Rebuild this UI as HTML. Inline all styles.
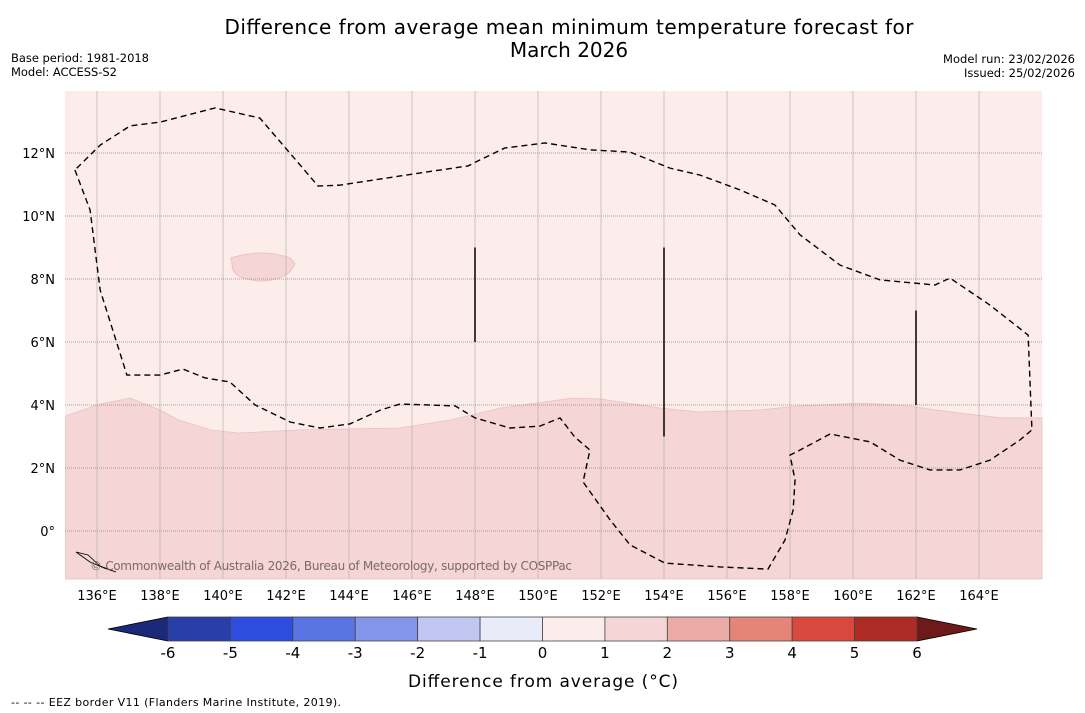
<!DOCTYPE html>
<html><head><meta charset="utf-8"><style>
body{margin:0;background:#fff;width:1085px;height:713px;overflow:hidden;font-family:"DejaVu Sans","Liberation Sans",sans-serif}
svg{position:absolute;left:0;top:0}
</style></head><body>
<svg id="c" width="1085" height="713" font-family="DejaVu Sans, Liberation Sans, sans-serif"></svg>
<script>
const lonTicks=[136,138,140,142,144,146,148,150,152,154,156,158,160,162,164];
const latTicks=[0,2,4,6,8,10,12];
const cbLevels=[-6,-5,-4,-3,-2,-1,0,1,2,3,4,5,6];
const cbColors=['#283ea8','#2e4ddf','#5a74e2','#8295e8','#c0c8f2','#e9ebf9','#fcecea','#f5d5d5','#ebaca7','#e58479','#d9483c','#ad2b25'];
const cbLow='#1b2a78', cbHigh='#6e1a18';
const anomBoundary=[[135,3.65],[136.1,4.03],[137.05,4.22],[138,3.84],[138.6,3.52],[139.6,3.21],[140.5,3.11],[142.4,3.21],[145.6,3.27],[147.2,3.52],[148.8,3.9],[151.1,4.22],[152,4.19],[153.9,3.9],[155.1,3.78],[157,3.84],[158.3,3.97],[160.2,4.06],[161.5,4.0],[163.1,3.78],[164.7,3.59],[166,3.59]];
const eez=[[135.3,11.46],[135.78,10.19],[136.1,7.65],[136.95,4.95],[138.0,4.95],[138.73,5.14],[139.43,4.86],[140.22,4.73],[141.02,4.0],[142.13,3.46],[143.08,3.27],[144.03,3.4],[145.0,3.84],[145.62,4.03],[146.57,4.0],[147.37,3.97],[148.0,3.59],[149.11,3.27],[150.06,3.33],[150.7,3.59],[151.17,2.98],[151.65,2.57],[151.43,1.56],[152.29,0.35],[152.92,-0.44],[154.03,-1.02],[155.78,-1.14],[157.3,-1.21],[157.84,-0.29],[158.1,0.67],[158.16,1.62],[158.0,2.41],[158.32,2.57],[159.27,3.08],[160.54,2.83],[161.49,2.25],[162.44,1.94],[163.4,1.94],[164.35,2.25],[165.3,2.89],[165.68,3.21],[165.56,6.22],[164.35,7.17],[163.08,8.03],[162.6,7.81],[160.86,7.97],[159.59,8.44],[158.32,9.4],[157.52,10.35],[156.41,10.83],[155.14,11.3],[154.19,11.52],[152.92,12.03],[151.65,12.1],[150.22,12.32],[148.95,12.16],[148.16,11.78],[147.78,11.59],[146.89,11.46],[145.62,11.27],[143.71,10.98],[143.02,10.95],[141.17,13.11],[139.75,13.43],[138.0,12.98],[137.05,12.86],[136.1,12.25],[135.3,11.46]];
const vLines=[[148,9,6],[154,9,3],[162,7,4]];
const L=65,R=1042,T=91,B=579;
const X=lon=>97+(lon-136)*31.5, Y=lat=>531-lat*31.5;
const cbX=v=>168+(v+6)*(917-168)/12;
const s=document.getElementById('c');const NS='http://www.w3.org/2000/svg';
function E(t,a,p){const e=document.createElementNS(NS,t);for(const k in a)e.setAttribute(k,a[k]);(p||s).appendChild(e);return e;}
function T_(x,y,txt,sz,anc){const e=E('text',{x:x,y:y,'font-size':sz,'text-anchor':anc||'start',fill:'#000'});e.textContent=txt;return e;}
let t=T_(569,34,'Difference from average mean minimum temperature forecast for',20,'middle');

t.setAttribute('textLength','689');
t=T_(569,57,'March 2026',20,'middle');

T_(11,62,'Base period: 1981-2018',11.5).setAttribute('textLength','138');
T_(11,76,'Model: ACCESS-S2',11.5).setAttribute('textLength','106');
T_(1075,63,'Model run: 23/02/2026',11.5,'end').setAttribute('textLength','132');
T_(1075,77,'Issued: 25/02/2026',11.5,'end').setAttribute('textLength','111');
let bg=E('rect',{x:L,y:T,width:R-L,height:B-T,fill:cbColors[6]});

let d='M'+X(anomBoundary[0][0])+','+B;anomBoundary.forEach(p=>d+=' L'+X(p[0])+','+Y(p[1]));d+=' L'+R+','+B+' Z';
let a=E('path',{d:d,fill:cbColors[7],stroke:'#e9c4c1','stroke-width':0.8});

E('path',{d:'M231,258 Q262,248 290,258 L295,264 Q288,280 262,281 Q238,280 233,270 Z',fill:cbColors[7],stroke:'#e9c4c1'});
lonTicks.forEach(v=>{let l=E('line',{x1:X(v),x2:X(v),y1:T,y2:B,stroke:'#aaa','stroke-width':0.6});
let tx=T_(X(v),600,v+'°E',13,'middle');});
latTicks.forEach(v=>{E('line',{x1:L,x2:R,y1:Y(v),y2:Y(v),stroke:'#888','stroke-width':0.7,'stroke-dasharray':'1,1'});
let tx=T_(55,Y(v)+5,v===0?'0°':v+'°N',13,'end');});
let ed='';eez.forEach((p,i)=>ed+=(i?' L':'M')+X(p[0])+','+Y(p[1]));
let ep=E('path',{d:ed,fill:'none',stroke:'#000','stroke-width':1.4,'stroke-dasharray':'6,4'});

vLines.forEach(v=>E('line',{x1:X(v[0]),x2:X(v[0]),y1:Y(v[1]),y2:Y(v[2]),stroke:'#000','stroke-width':1.5}));
E('path',{d:'M76,552 L88,555 L100,566 L116,572 L104,568 L90,562 Z',fill:'none',stroke:'#000','stroke-width':0.8});
let cr=T_(90,570,'© Commonwealth of Australia 2026, Bureau of Meteorology, supported by COSPPac',12);cr.setAttribute('fill','#7a6a6a');
cr.setAttribute('textLength','482');

E('path',{d:`M108,629 L168,617 L168,641 Z`,fill:cbLow,stroke:'#000','stroke-width':0.8});
E('path',{d:`M977,629 L917,617 L917,641 Z`,fill:cbHigh,stroke:'#000','stroke-width':0.8});
cbColors.forEach((c,i)=>{let r=E('rect',{x:cbX(cbLevels[i]),y:617,width:cbX(cbLevels[i+1])-cbX(cbLevels[i]),height:24,fill:c,stroke:'#444','stroke-width':0.8});
});
cbLevels.forEach(v=>{let tx=T_(cbX(v),658,String(v),15,'middle');});
let ct=T_(543,687,'Difference from average (°C)',17,'middle');ct.setAttribute('textLength','270');
let ft=T_(11,706,'-- -- -- EEZ border V11 (Flanders Marine Institute, 2019).',11);ft.setAttribute('textLength','330');
</script>
</body></html>
